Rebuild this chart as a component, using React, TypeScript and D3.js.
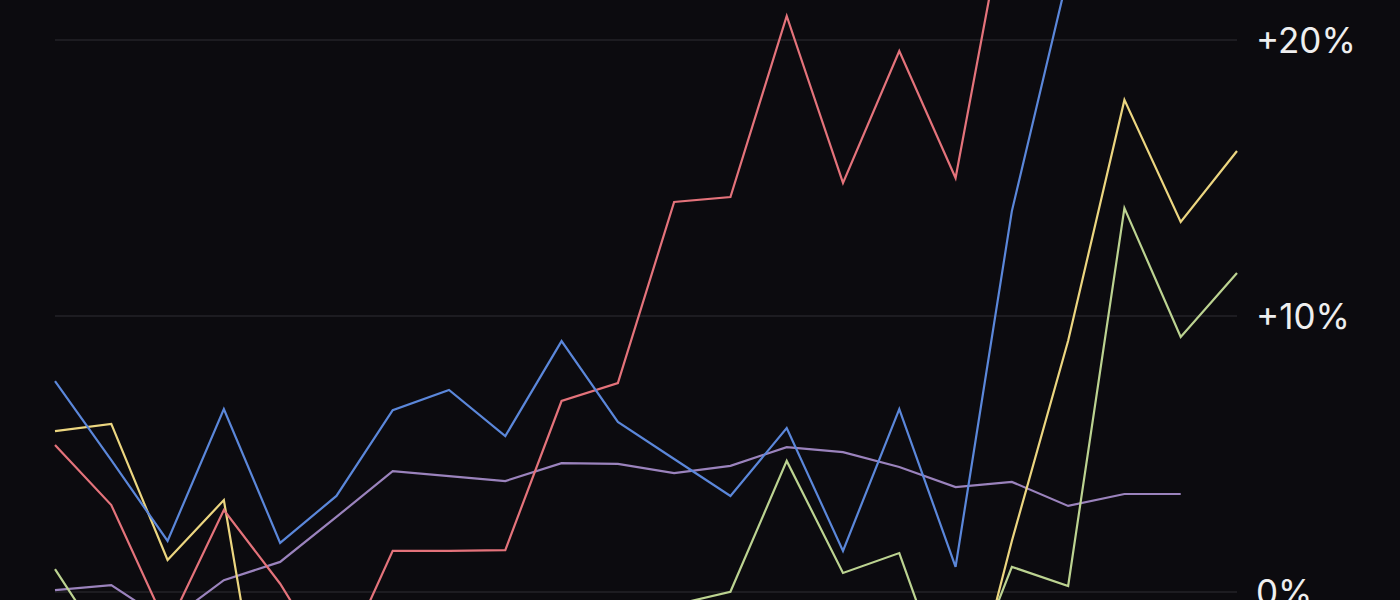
import { useEffect, useRef } from 'react';
import * as d3 from 'd3';

// 22 periods, values in percent change
const periods = d3.range(22);

const blueValues = [7.64, 4.78, 1.85, 6.63, 1.78, 3.48, 6.59, 7.32, 5.65, 9.09, 6.16, 4.82, 3.48, 5.94, 1.49, 6.63, 0.91, 13.8, 22.4, 25.5, 24.5, 26.5];
const redValues = [5.33, 3.15, -1.3, 2.97, 0.3, -3.0, 1.49, 1.49, 1.52, 6.92, 7.57, 14.13, 14.31, 20.87, 14.82, 19.6, 15.0, 25.9, 27.0, 25.5, 27.5, 27.0];
const yellowValues = [5.83, 6.09, 1.16, 3.33, -8.7, -9, -7, -8, -10, -9, -8, -7, -9, -8, -7, -6.5, -6.1, 1.85, 9.1, 17.83, 13.41, 15.98];
const greenValues = [0.83, -2.3, -4, -5, -6, -5, -4, -5, -3, -3, -1.5, -0.47, 0.01, 4.75, 0.69, 1.41, -4.3, 0.91, 0.22, 13.91, 9.24, 11.56];
const purpleValues = [0.07, 0.25, -1.09, 0.43, 1.09, 2.72, 4.38, 4.2, 4.02, 4.67, 4.64, 4.31, 4.57, 5.25, 5.07, 4.53, 3.8, 3.99, 3.12, 3.55, 3.55];

const tickValues = [0, 10, 20];
const tickLabels = ['0%', '+10%', '+20%'];

const series = [
  { name: 'purple', values: purpleValues, color: '#9b83bd' },
  { name: 'green', values: greenValues, color: '#bcd391' },
  { name: 'yellow', values: yellowValues, color: '#ecd680' },
  { name: 'red', values: redValues, color: '#e4737b' },
  { name: 'blue', values: blueValues, color: '#5b87da' },
];

const App = () => {
  const svgRef = useRef<SVGSVGElement>(null);

  useEffect(() => {
    if (!svgRef.current) return;
    const svg = d3.select(svgRef.current);
    svg.selectAll('*').remove();

    const x = d3.scaleLinear().domain([0, periods.length - 1]).range([55, 1237]);
    const y = d3.scaleLinear().domain([0, 20]).range([592, 40]);

    svg.append('rect').attr('width', 1400).attr('height', 600).attr('fill', '#0c0b0f');

    // gridlines
    svg
      .append('g')
      .selectAll('line')
      .data(tickValues)
      .enter()
      .append('line')
      .attr('x1', x(0))
      .attr('x2', x(periods.length - 1))
      .attr('y1', d => y(d))
      .attr('y2', d => y(d))
      .attr('stroke', '#1d1c21')
      .attr('stroke-width', 2);

    // tick labels on the right
    svg
      .append('g')
      .selectAll('text')
      .data(tickValues)
      .enter()
      .append('text')
      .attr('x', 1256)
      .attr('y', d => y(d) + 3)
      .attr('dominant-baseline', 'middle')
      .attr('fill', '#efefef')
      .attr('font-family', 'Inter, "Noto Sans", sans-serif')
      .attr('font-size', 35)
      .text((d, i) => tickLabels[i]);

    const line = d3
      .line<number>()
      .x((d, i) => x(i))
      .y(d => y(d));

    svg
      .append('g')
      .selectAll('path')
      .data(series)
      .enter()
      .append('path')
      .attr('fill', 'none')
      .attr('stroke', d => d.color)
      .attr('stroke-width', 2.2)
      .attr('stroke-linejoin', 'miter')
      .attr('d', d => line(d.values));
  }, []);

  return (
    <svg
      ref={svgRef}
      width={1400}
      height={600}
      style={{ position: 'absolute', left: 0, top: 0, display: 'block' }}
    />
  );
};

export default App;
